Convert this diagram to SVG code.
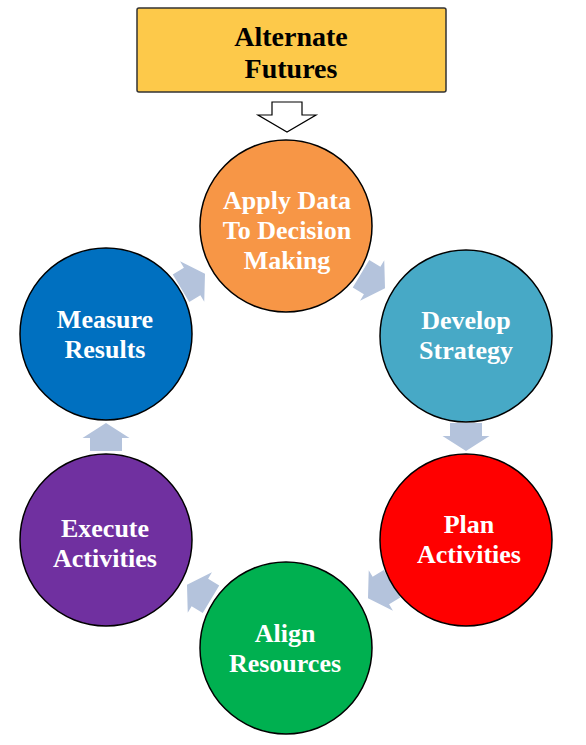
<svg xmlns="http://www.w3.org/2000/svg" width="586" height="745" viewBox="0 0 586 745">
<style>
.c{stroke:#000;stroke-width:1.5}
.t{font-family:"Liberation Serif","Times New Roman",serif;font-weight:bold;font-size:26px;fill:#fff;text-anchor:middle}
.bt{font-family:"Liberation Serif","Times New Roman",serif;font-weight:bold;font-size:28px;fill:#000;text-anchor:middle}
.a{fill:#B4C3DC}
</style>
<defs>
<path id="arr" d="M-14,-16 L-1,-16 L-1,-23.5 L14,0 L-1,23.5 L-1,16 L-14,16 Z"/>
</defs>
<rect width="586" height="745" fill="#fff"/>
<g id="alternate-futures">
<rect x="137" y="8" width="309" height="84" rx="2" fill="#FDC94A" stroke="#333" stroke-width="1.5"/>
<text class="bt" x="291" y="46">Alternate</text>
<text class="bt" x="291" y="78">Futures</text>
</g>
<g id="connectors">
<polygon points="272,102 302,102 302,115 316,115 287,132 258,115 272,115" fill="#fff" stroke="#000" stroke-width="1.2"/>
<use href="#arr" class="a" transform="translate(193,281) rotate(-31)"/>
<use href="#arr" class="a" transform="translate(373,281) rotate(31)"/>
<use href="#arr" class="a" transform="translate(466,437) rotate(90)"/>
<use href="#arr" class="a" transform="translate(380,591) rotate(149)"/>
<use href="#arr" class="a" transform="translate(199,592) rotate(211)"/>
<use href="#arr" class="a" transform="translate(106,437) rotate(-90)"/>
</g>
<g id="apply">
<circle class="c" cx="286" cy="226" r="86" fill="#F79646"/>
<text class="t" x="287" y="209">Apply Data</text>
<text class="t" x="287" y="239">To Decision</text>
<text class="t" x="287" y="269">Making</text>
</g>
<g id="develop">
<circle class="c" cx="466" cy="336" r="86" fill="#47A9C6"/>
<text class="t" x="466" y="329">Develop</text>
<text class="t" x="466" y="359">Strategy</text>
</g>
<g id="plan">
<circle class="c" cx="466" cy="540" r="86" fill="#FF0000"/>
<text class="t" x="469" y="533">Plan</text>
<text class="t" x="469" y="563">Activities</text>
</g>
<g id="align">
<circle class="c" cx="286" cy="648" r="86" fill="#00B050"/>
<text class="t" x="285" y="642">Align</text>
<text class="t" x="285" y="672">Resources</text>
</g>
<g id="execute">
<circle class="c" cx="106" cy="540" r="86" fill="#7030A0"/>
<text class="t" x="105" y="537">Execute</text>
<text class="t" x="105" y="567">Activities</text>
</g>
<g id="measure">
<circle class="c" cx="106" cy="334" r="86" fill="#0070C0"/>
<text class="t" x="105" y="328">Measure</text>
<text class="t" x="105" y="358">Results</text>
</g>
</svg>
